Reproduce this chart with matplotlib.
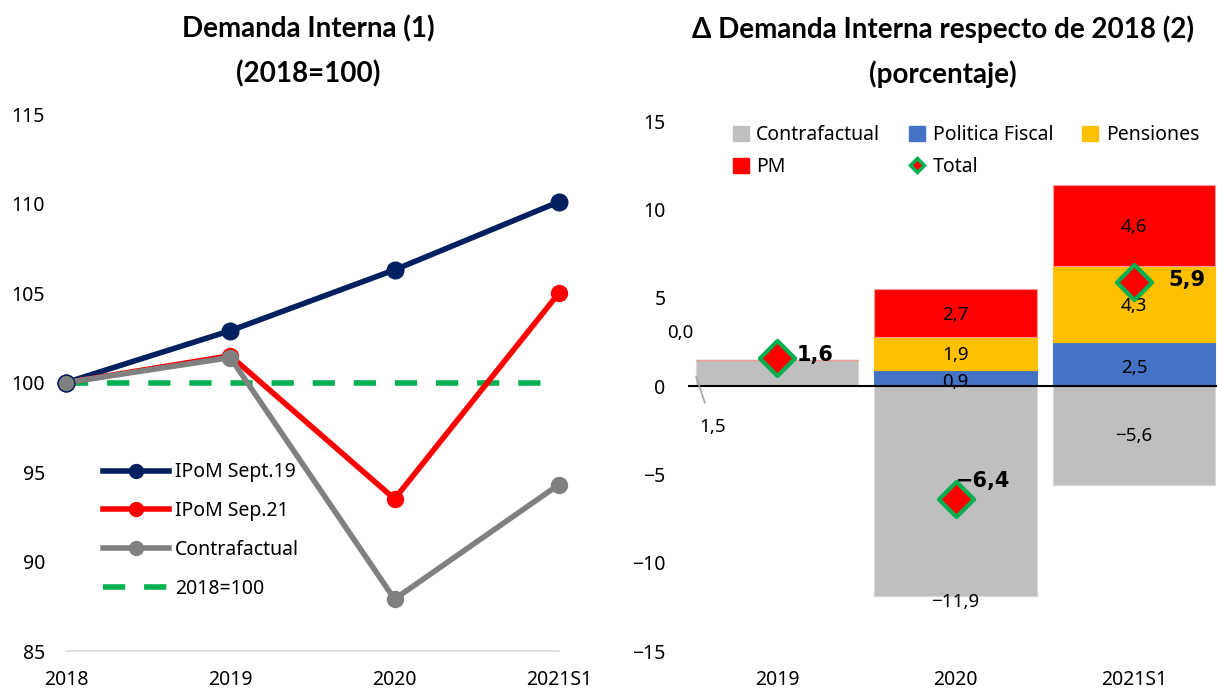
import matplotlib
matplotlib.use("Agg")
import numpy as np
import matplotlib.pyplot as plt
from matplotlib.lines import Line2D
from matplotlib.patches import Patch

# left panel: index 2018=100
years_left = ["2018", "2019", "2020", "2021S1"]
ipom_sep19 = [100.0, 102.9, 106.3, 110.1]
ipom_sep21 = [100.0, 101.5, 93.5, 105.0]
contraf_idx = [100.0, 101.4, 87.9, 94.3]
base_line = [100.0, 100.0, 100.0, 100.0]

# right panel: contributions (%)
years_right = ["2019", "2020", "2021S1"]
contrafactual = [1.5, -11.9, -5.6]
politica_fiscal = [0.0, 0.9, 2.5]
pensiones = [0.0, 1.9, 4.3]
pm = [0.0, 2.7, 4.6]
total = [1.6, -6.4, 5.9]

NAVY = "#002060"
RED = "#FF0000"
GRAY = "#808080"
GREEN = "#00B050"
BAR_GRAY = "#BFBFBF"
BLUE = "#4472C4"
YELLOW = "#FFC000"

plt.rcParams["font.family"] = ["Noto Sans", "DejaVu Sans"]
TFONT = ["Lato", "DejaVu Sans"]
FS = 14


def fmt(v):
    return f"{v:.1f}".replace(".", ",").replace("-", "−")


fig = plt.figure(figsize=(12.17, 6.9), dpi=100)

# ---------------- left panel ----------------
ax1 = fig.add_axes([0.0542, 0.0565, 0.405, 0.778])
x = np.arange(len(years_left))
ax1.plot([x[0], x[-1] - 0.05], [base_line[0], base_line[-1]], color=GREEN, lw=4,
         dashes=(4, 3.4), zorder=2)
ax1.plot(x, contraf_idx, color=GRAY, lw=4, marker="o", ms=11.5, clip_on=False, zorder=3)
ax1.plot(x, ipom_sep21, color=RED, lw=4, marker="o", ms=11.5, clip_on=False, zorder=2.5)
ax1.plot(x, ipom_sep19, color=NAVY, lw=4, marker="o", ms=12, clip_on=False, zorder=2.4)
ax1.plot([0], [contraf_idx[0]], marker="o", ms=12, mfc=GRAY, mec=NAVY, mew=1,
         clip_on=False, zorder=4)

ax1.set_xlim(0, 3)
ax1.set_ylim(85, 115)
ax1.set_yticks(np.arange(85, 116, 5))
ax1.set_xticks(x)
ax1.set_xticklabels(years_left)
for s in ["left", "right", "top"]:
    ax1.spines[s].set_visible(False)
ax1.spines["bottom"].set_color("#D9D9D9")
ax1.spines["bottom"].set_linewidth(1.2)
ax1.tick_params(length=0, labelsize=FS, pad=14)
ax1.tick_params(axis="y", pad=15)

handles1 = [
    Line2D([], [], color=NAVY, lw=4, marker="o", ms=10),
    Line2D([], [], color=RED, lw=4, marker="o", ms=10),
    Line2D([], [], color=GRAY, lw=4, marker="o", ms=10),
    Line2D([], [], color=GREEN, lw=4, dashes=(4, 3.4)),
]
ax1.legend(handles1, ["IPoM Sept.19", "IPoM Sep.21", "Contrafactual", "2018=100"],
           loc="upper left", bbox_to_anchor=(0.04, 0.384), frameon=False,
           fontsize=FS, handlelength=3.4, handletextpad=0.3, labelspacing=0.97)

fig.text(0.253, 0.958, "Demanda Interna (1)", ha="center", va="center",
         fontsize=20, fontweight="bold", family=TFONT)
fig.text(0.253, 0.893, "(2018=100)", ha="center", va="center",
         fontsize=20, fontweight="bold", family=TFONT)

# ---------------- right panel ----------------
ax2 = fig.add_axes([0.5653, 0.0565, 0.4347, 0.768])
xr = np.arange(len(years_right))
w = 0.91
c = np.array(contrafactual)
pf = np.array(politica_fiscal)
pe = np.array(pensiones)
p = np.array(pm)
pos_base = np.where(c > 0, c, 0)

ax2.bar(xr, c, w, color=BAR_GRAY, edgecolor="#D9D9D9", lw=0.8, zorder=2)
ax2.bar(xr, pf, w, bottom=pos_base, color=BLUE, edgecolor=BLUE, lw=0.8, zorder=2)
ax2.bar(xr, pe, w, bottom=pos_base + pf, color=YELLOW, edgecolor=YELLOW, lw=0.8, zorder=2)
ax2.bar(xr, p, w, bottom=pos_base + pf + pe, color=RED, edgecolor="#FF9999", lw=0.8, zorder=2)
ax2.axhline(0, color="black", lw=1.5, zorder=3)

# segment labels
for i in range(1, 3):
    cy = c[i] - 0.35 if c[i] < -8 else c[i] / 2
    ax2.text(xr[i], cy, fmt(c[i]), ha="center", va="center", fontsize=FS - 0.5)
    ax2.text(xr[i], pf[i] / 2 - 0.2, fmt(pf[i]), ha="center", va="center", fontsize=FS - 0.5)
    ax2.text(xr[i], pf[i] + pe[i] / 2 - 0.1, fmt(pe[i]), ha="center", va="center",
             fontsize=FS - 0.5)
    ax2.text(xr[i], pf[i] + pe[i] + p[i] / 2 - 0.1, fmt(p[i]), ha="center", va="center",
             fontsize=FS - 0.5)
# 2019 labels with leader line
ax2.annotate(fmt(c[0]), xy=(-0.455, 0.55), xytext=(-0.36, -2.3),
             ha="center", va="center", fontsize=FS - 0.5,
             arrowprops=dict(arrowstyle="-", color="#A6A6A6", lw=1.2, shrinkA=9, shrinkB=0))
ax2.text(-0.545, 3.0, fmt(p[0]), ha="center", va="center", fontsize=FS - 0.5)

ax2.scatter(xr, total, marker="D", s=320, facecolor=RED, edgecolor=GREEN, lw=3, zorder=5)
tot_off = [(0.11, 0.15), (0.0, 1.0), (0.195, 0.1)]
for i in range(3):
    ax2.text(xr[i] + tot_off[i][0], total[i] + tot_off[i][1], fmt(total[i]),
             ha="left", va="center", fontsize=15, fontweight="bold",
             family="DejaVu Sans", zorder=6)

ax2.set_xlim(-0.5, 2.465)
ax2.set_ylim(-15, 15)
ax2.set_yticks(np.arange(-15, 16, 5))
ax2.set_xticks(xr)
ax2.set_xticklabels(years_right)
for s in ["left", "right", "top", "bottom"]:
    ax2.spines[s].set_visible(False)
ax2.tick_params(length=0, labelsize=FS, pad=14)
ax2.tick_params(axis="y", pad=16)

# order gives row-major filling: Contrafactual, Politica Fiscal, Pensiones / PM, Total
handles2 = [
    Patch(color=BAR_GRAY), Patch(color=RED), Patch(color=BLUE),
    Line2D([], [], ls="none", marker="D", ms=7, mfc=RED, mec=GREEN, mew=2.5),
    Patch(color=YELLOW),
]
ax2.legend(handles2, ["Contrafactual", "PM", "Politica Fiscal", "Total", "Pensiones"],
           ncol=3, loc="upper left", bbox_to_anchor=(0.052, 1.025), frameon=False,
           fontsize=FS, handlelength=0.8, handleheight=0.8, handletextpad=0.4,
           columnspacing=1.5, labelspacing=0.6)

fig.text(0.775, 0.958, "Δ Demanda Interna respecto de 2018 (2)", ha="center",
         va="center", fontsize=20, fontweight="bold", family=TFONT)
fig.text(0.775, 0.893, "(porcentaje)", ha="center", va="center",
         fontsize=20, fontweight="bold", family=TFONT)

fig.savefig("out.png", dpi=100)
